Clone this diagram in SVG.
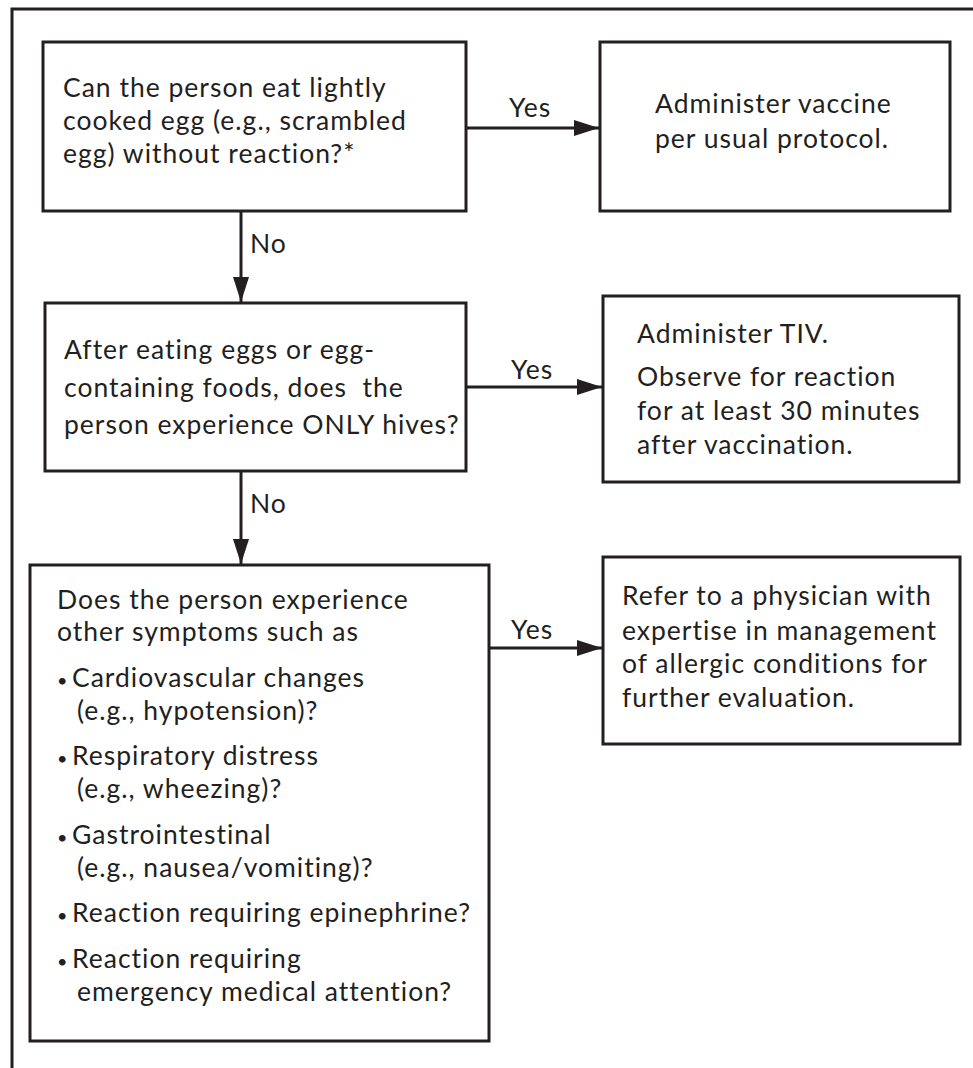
<svg xmlns="http://www.w3.org/2000/svg" width="973" height="1068" viewBox="0 0 973 1068">
<defs>
<style>
.box{fill:#fff;stroke:#231f20;stroke-width:3}
.line{fill:none;stroke:#231f20;stroke-width:3}
text{font-family:Lato,"Open Sans","Liberation Sans",sans-serif;font-size:26.5px;letter-spacing:1px;font-variant-ligatures:none;fill:#231f20}
.b{font-size:18px}
</style>
<marker id="arr" markerWidth="25" markerHeight="16" refX="25" refY="8" orient="auto" markerUnits="userSpaceOnUse">
<path d="M0,0 L25,8 L0,16 Z" fill="#231f20"/>
</marker>
</defs>
<rect width="973" height="1068" fill="#fff"/>
<path class="line" d="M12,1070 V9 H975"/>
<g id="connectors">
<line class="line" x1="466" y1="128" x2="599" y2="128" marker-end="url(#arr)"/>
<text x="509" y="117">Yes</text>
<line class="line" x1="241" y1="211" x2="241" y2="302" marker-end="url(#arr)"/>
<text x="250" y="253">No</text>
<line class="line" x1="466" y1="387" x2="602" y2="387" marker-end="url(#arr)"/>
<text x="511" y="379">Yes</text>
<line class="line" x1="241" y1="471" x2="241" y2="564" marker-end="url(#arr)"/>
<text x="250" y="513">No</text>
<line class="line" x1="489" y1="648" x2="602" y2="648" marker-end="url(#arr)"/>
<text x="511" y="639">Yes</text>
</g>
<g id="q1">
<rect class="box" x="43" y="42" width="423" height="169"/>
<text x="63" y="97">Can the person eat lightly</text>
<text x="63" y="130">cooked egg (e.g., scrambled</text>
<text x="63" y="163">egg) without reaction?*</text>
</g>
<g id="a1">
<rect class="box" x="600" y="42" width="350" height="169"/>
<text x="655" y="113">Administer vaccine</text>
<text x="655" y="148">per usual protocol.</text>
</g>
<g id="q2">
<rect class="box" x="45" y="303" width="421" height="168"/>
<text x="64" y="359">After eating eggs or egg-</text>
<text x="64" y="397" xml:space="preserve">containing foods, does  the</text>
<text x="64" y="434">person experience ONLY hives?</text>
</g>
<g id="a2">
<rect class="box" x="603" y="296" width="356" height="186"/>
<text x="637" y="343">Administer TIV.</text>
<text x="637" y="386">Observe for reaction</text>
<text x="637" y="420">for at least 30 minutes</text>
<text x="637" y="454">after vaccination.</text>
</g>
<g id="q3">
<rect class="box" x="30" y="565" width="459" height="476"/>
<text x="57" y="609">Does the person experience</text>
<text x="57" y="641">other symptoms such as</text>
<text x="57" y="687"><tspan class="b">•</tspan><tspan x="72">Cardiovascular changes</tspan></text>
<text x="77" y="720">(e.g., hypotension)?</text>
<text x="57" y="765"><tspan class="b">•</tspan><tspan x="72">Respiratory distress</tspan></text>
<text x="77" y="798">(e.g., wheezing)?</text>
<text x="57" y="844"><tspan class="b">•</tspan><tspan x="72">Gastrointestinal</tspan></text>
<text x="77" y="877">(e.g., nausea/vomiting)?</text>
<text x="57" y="922"><tspan class="b">•</tspan><tspan x="72">Reaction requiring epinephrine?</tspan></text>
<text x="57" y="968"><tspan class="b">•</tspan><tspan x="72">Reaction requiring</tspan></text>
<text x="77" y="1001">emergency medical attention?</text>
</g>
<g id="a3">
<rect class="box" x="603" y="557" width="357" height="187"/>
<text x="622" y="605">Refer to a physician with</text>
<text x="622" y="640">expertise in management</text>
<text x="622" y="673">of allergic conditions for</text>
<text x="622" y="707">further evaluation.</text>
</g>
</svg>
